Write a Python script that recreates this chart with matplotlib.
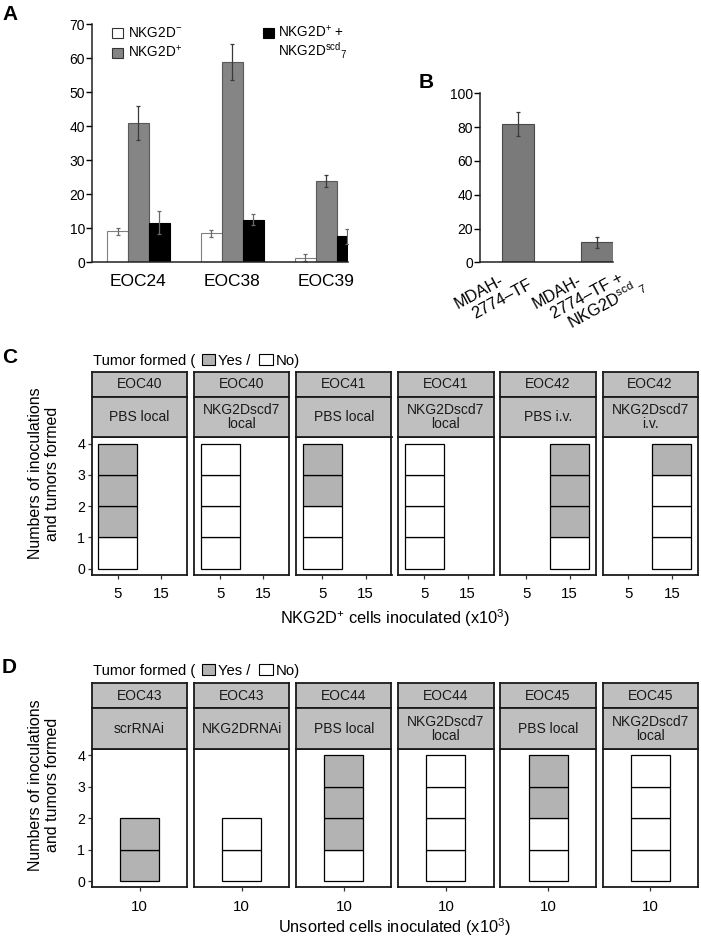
import matplotlib
matplotlib.use('Agg')
import matplotlib.pyplot as plt
from matplotlib.patches import Rectangle
import numpy as np

plt.rcParams['font.family'] = ['Liberation Sans', 'DejaVu Sans']
plt.rcParams['mathtext.fontset'] = 'custom'
plt.rcParams['mathtext.rm'] = 'Liberation Sans'
plt.rcParams['mathtext.it'] = 'Liberation Sans:italic'
plt.rcParams['mathtext.bf'] = 'Liberation Sans:bold'
plt.rcParams['mathtext.sf'] = 'Liberation Sans'

# ---------------- data ----------------
# Panel A
a_groups = ['EOC24', 'EOC38', 'EOC39']
a_neg = [9.0, 8.4, 1.3]
a_neg_err = [1.0, 1.1, 1.0]
a_pos = [41.0, 58.8, 23.8]
a_pos_err = [5.0, 5.3, 1.7]
a_scd = [11.6, 12.4, 7.6]
a_scd_err = [3.3, 1.6, 2.2]
a_yticks = [0, 10, 20, 30, 40, 50, 60, 70]
a_legend = ['NKG2D$^{-}$', 'NKG2D$^{+}$', 'NKG2D$^{+}$ +', 'NKG2D$^{\\mathrm{scd}}{}_{7}$']

# Panel B
b_labels = [['MDAH-', '2774\u2013TF'],
            ['MDAH-', '2774\u2013TF +', 'NKG2D$^{\\mathrm{scd}}{}_{\\ 7}$']]
b_vals = [82.0, 11.8]
b_err = [7.0, 3.3]
b_yticks = [0, 20, 40, 60, 80, 100]

# Panel C
c_line = ['EOC40', 'EOC40', 'EOC41', 'EOC41', 'EOC42', 'EOC42']
c_treat = ['PBS local', 'NKG2Dscd7\nlocal', 'PBS local', 'NKG2Dscd7\nlocal', 'PBS i.v.', 'NKG2Dscd7\ni.v.']
c_doses = ['5', '15']
c_yes = [[3, 0], [0, 0], [2, 0], [0, 0], [0, 3], [0, 1]]
c_no = [[1, 0], [4, 0], [2, 0], [4, 0], [0, 1], [0, 3]]
c_xlabel = 'NKG2D$^{+}$ cells inoculated (x10$^{3}$)'

# Panel D
d_line = ['EOC43', 'EOC43', 'EOC44', 'EOC44', 'EOC45', 'EOC45']
d_treat = ['scrRNAi', 'NKG2DRNAi', 'PBS local', 'NKG2Dscd7\nlocal', 'PBS local', 'NKG2Dscd7\nlocal']
d_doses = ['10']
d_yes = [[2], [0], [3], [0], [2], [0]]
d_no = [[0], [2], [1], [4], [2], [4]]
d_xlabel = 'Unsorted cells inoculated (x10$^{3}$)'

facet_yticks = [0, 1, 2, 3, 4]
ylab = 'Numbers of inoculations\nand tumors formed'

# ---------------- layout helpers ----------------
W, H = 701, 952
fig = plt.figure(figsize=(W / 100, H / 100), dpi=100)


def rect(x0, y0, x1, y1):
    return [x0 / W, 1 - y1 / H, (x1 - x0) / W, (y1 - y0) / H]


def fx(x):
    return x / W


def fy(y):
    return 1 - y / H


def fig_box(x0, y0, x1, y1, fc, ec='black', lw=0.8):
    fig.patches.append(Rectangle((fx(x0), fy(y1)), (x1 - x0) / W, (y1 - y0) / H,
                                 transform=fig.transFigure, fc=fc, ec=ec, lw=lw))


GRAY_A = '#858585'
GRAY_FILL = '#b3b3b3'
GRAY_STRIP = '#bfbfbf'

# ---------------- Panel A ----------------
axA = fig.add_axes(rect(92, 24, 348, 262))
x = np.arange(len(a_groups))
w = 0.223
ekw = dict(ecolor='#6a6a6a', elinewidth=0.9, capsize=1.6, capthick=0.9)
axA.bar(x - w, a_neg, w, color='white', edgecolor='#808080', lw=0.8, yerr=a_neg_err, error_kw=ekw)
axA.bar(x, a_pos, w, color=GRAY_A, edgecolor='#5a5a5a', lw=0.8,
        yerr=a_pos_err, error_kw=dict(ecolor='#3a3a3a', elinewidth=0.9, capsize=1.6, capthick=0.9))
axA.bar(x + w, a_scd, w, color='black', edgecolor='black', lw=0.8, yerr=a_scd_err, error_kw=ekw)
axA.set_xlim(-0.495, 2.234)
axA.set_ylim(0, 70)
axA.set_yticks(a_yticks)
axA.set_xticks(x, a_groups)
for s in ['top', 'right']:
    axA.spines[s].set_visible(False)
for s in ['left', 'bottom']:
    axA.spines[s].set_linewidth(1.1)
    axA.spines[s].set_color('#222222')
axA.tick_params(axis='y', direction='out', length=4, width=1, labelsize=10, pad=1)
axA.tick_params(axis='x', length=0, labelsize=12.5, pad=9)

# legend A
fig_box(111.7, 27.7, 123.3, 38.3, 'white', ec='#333333')
fig_box(111.7, 47.7, 123.3, 57.7, GRAY_A, ec='#333333')
fig_box(263.3, 27.7, 273.8, 38.3, 'black', ec='black')
fig.text(fx(128.5), fy(36.7), a_legend[0], fontsize=9.8, va='baseline', ha='left')
fig.text(fx(128.5), fy(56.7), a_legend[1], fontsize=9.8, va='baseline', ha='left')
fig.text(fx(278), fy(36.7), a_legend[2], fontsize=9.8, va='baseline', ha='left')
fig.text(fx(278), fy(56.7), a_legend[3], fontsize=9.8, va='baseline', ha='left')

# ---------------- Panel B ----------------
axB = fig.add_axes(rect(480, 93.3, 613, 262.3))
xb = np.arange(len(b_vals))
axB.bar(xb, b_vals, 0.41, color='#7a7a7a', edgecolor='#4a4a4a', lw=0.8,
        yerr=b_err, error_kw=dict(ecolor='#3a3a3a', elinewidth=0.9, capsize=1.6, capthick=0.9))
axB.set_xlim(-0.49, 1.21)
axB.set_ylim(0, 100)
axB.set_yticks(b_yticks)
axB.set_xticks(xb, [''] * len(xb))
for s in ['top', 'right']:
    axB.spines[s].set_visible(False)
for s in ['left', 'bottom']:
    axB.spines[s].set_linewidth(1.1)
    axB.spines[s].set_color('#222222')
axB.tick_params(axis='y', direction='out', length=4, width=1, labelsize=10, pad=1)
axB.tick_params(axis='x', length=0)
ang = 28.5
along = np.array([np.cos(np.radians(ang)), np.sin(np.radians(ang))])
perp = np.array([np.sin(np.radians(ang)), -np.cos(np.radians(ang))])
for i, lines in enumerate(b_labels):
    for k, line in enumerate(lines):
        off = np.array([-61.0, -47.0]) + k * (11.0 * along + 17.4 * perp)
        axB.annotate(line, xy=(xb[i], 0), xycoords='data',
                     xytext=(off[0] * 0.72, off[1] * 0.72), textcoords='offset points',
                     rotation=ang, rotation_mode='anchor', ha='left', va='baseline',
                     fontsize=11.8, annotation_clip=False)

# ---------------- Panels C / D ----------------


def facet_block(y_s1, y_s2, y_p0, y_p1, lines, treats, doses, yes, no, xlabel, y_xlab, y_leg):
    step = 102.1
    pw = 95.3
    for i in range(len(lines)):
        x0 = 92 + i * step
        x1 = x0 + pw
        ax = fig.add_axes(rect(x0, y_p0, x1, y_p1))
        pos = np.arange(len(doses))
        for j in range(len(doses)):
            n_no, n_yes = no[i][j], yes[i][j]
            n = n_no + n_yes
            if n == 0:
                continue
            bottoms = np.arange(n)
            colors = ['white'] * n_no + [GRAY_FILL] * n_yes
            ax.bar(np.full(n, pos[j]), np.ones(n), 0.9, bottom=bottoms,
                   color=colors, edgecolor='black', lw=0.9)
        c = (len(doses) - 1) / 2
        ax.set_xlim(c - 1.1, c + 1.1)
        ax.set_ylim(-0.2, 4.2)
        ax.set_xticks(pos, doses)
        ax.tick_params(axis='x', direction='out', length=3, width=0.9, color='#333333',
                       labelsize=10.8, pad=6)
        if i == 0:
            ax.set_yticks(facet_yticks)
            ax.tick_params(axis='y', direction='out', length=3, width=0.9, color='#333333',
                           labelsize=10.2, pad=2)
        else:
            ax.set_yticks([])
        for s in ax.spines.values():
            s.set_linewidth(1.3)
            s.set_color('#1a1a1a')
        # strips
        for (ya, yb, txt) in [(y_s1, y_s2, lines[i]), (y_s2, y_p0, treats[i])]:
            sa = fig.add_axes(rect(x0, ya, x1, yb))
            sa.set_facecolor(GRAY_STRIP)
            sa.set_xticks([])
            sa.set_yticks([])
            for s in sa.spines.values():
                s.set_linewidth(1.3)
                s.set_color('#1a1a1a')
            sa.text(0.5, 0.5, txt, ha='center', va='center', fontsize=10,
                    linespacing=1.0, transform=sa.transAxes, color='#1a1a1a')
    # axis titles
    left = 92
    right = 92 + (len(lines) - 1) * step + pw
    fig.text(fx((left + right) / 2), fy(y_xlab), xlabel, ha='center', va='center', fontsize=11.8)
    fig.text(fx(44), fy((y_s1 + y_p1) / 2), ylab, rotation=90, ha='center', va='center',
             fontsize=11.5, linespacing=1.15)
    # legend
    fig.text(fx(93), fy(y_leg), 'Tumor formed (', fontsize=10.7, va='baseline', ha='left')
    fig_box(202.3, y_leg - 11, 215, y_leg, GRAY_FILL, ec='black', lw=0.8)
    fig.text(fx(218.5), fy(y_leg), 'Yes /', fontsize=10.7, va='baseline', ha='left')
    fig_box(259.3, y_leg - 11, 272.7, y_leg, 'white', ec='black', lw=0.8)
    fig.text(fx(275.5), fy(y_leg), 'No)', fontsize=10.7, va='baseline', ha='left')


facet_block(372.3, 396.7, 437.3, 575.0, c_line, c_treat, c_doses, c_yes, c_no,
            c_xlabel, 618.5, 365.0)
facet_block(683.3, 708.3, 749.0, 887.3, d_line, d_treat, d_doses, d_yes, d_no,
            d_xlabel, 927.0, 675.0)

# panel letters
for lab, xx, yy in [('A', 2, 20), ('B', 419, 88), ('C', 2, 363), ('D', 2, 673)]:
    fig.text(fx(xx), fy(yy), lab, fontsize=15, fontweight='bold', va='baseline', ha='left')

fig.savefig('out.png', dpi=100)
